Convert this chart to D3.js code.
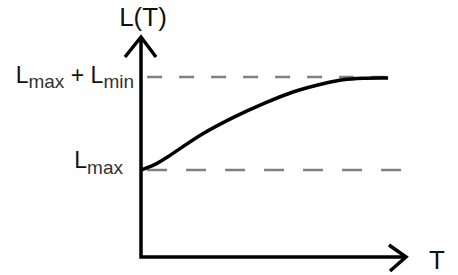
<!DOCTYPE html>
<html>
<head>
<meta charset="utf-8">
<script src="https://cdn.jsdelivr.net/npm/d3@7"></script>
<style>
  body { margin: 0; background: #fff; }
  text { font-family: "Liberation Sans", Arial, sans-serif; fill: #111; white-space: pre; }
</style>
</head>
<body>
<div id="chart"></div>
<script>
// curve L(T), in axis units (0..100 on both axes, 100 = arrow tip)
const curveT = [0, 5.3, 10.2, 23.1, 35.6, 46.2, 57.6, 70.5, 76.5, 84.1, 93.6];
const curveL = [39.5, 42.1, 45.6, 55.8, 63.8, 69.6, 75.0, 79.2, 80.6, 81.3, 81.4];

// reference levels
const levelNames = ["upper", "lower"];
const levelValues = [81.8, 39.5];
const levelStarts = [2.3, 2.3];
const levelEnds = [96.2, 103];

const axisLabels = ["L(T)", "T"];

function drawChart() {
    const width = 458, height = 275;
    const svg = d3.select("#chart")
        .append("svg")
        .attr("width", width)
        .attr("height", height);

    const xScale = d3.scaleLinear().domain([0, 100]).range([141, 405]);
    const yScale = d3.scaleLinear().domain([0, 100]).range([257, 37]);

    // dashed reference lines
    const dashes = { upper: "15,17", lower: "20,19" };
    levelNames.forEach((name, i) => {
        svg.append("line")
            .attr("class", "level-" + name)
            .attr("x1", xScale(levelStarts[i]))
            .attr("x2", xScale(levelEnds[i]))
            .attr("y1", yScale(levelValues[i]))
            .attr("y2", yScale(levelValues[i]))
            .attr("stroke", "#808080")
            .attr("stroke-width", 2.5)
            .attr("stroke-dasharray", dashes[name]);
    });

    // axes with arrow heads
    const axisPath = d3.line().x((d) => xScale(d[0])).y((d) => yScale(d[1]));
    svg.append("path")
        .attr("class", "axes")
        .attr("fill", "none")
        .attr("stroke", "#000")
        .attr("stroke-width", 3.5)
        .attr("stroke-linejoin", "miter")
        .attr("d", axisPath([[0, 100], [0, 0], [100, 0]]));

    // arrow heads
    const yTip = [xScale(0), yScale(100)];
    svg.append("path")
        .attr("fill", "none")
        .attr("stroke", "#000")
        .attr("stroke-width", 3.5)
        .attr("d", d3.line()([[yTip[0] - 16, yTip[1] + 20], yTip, [yTip[0] + 15, yTip[1] + 20]]));
    const xTip = [xScale(100) + 1, yScale(0)];
    svg.append("path")
        .attr("fill", "none")
        .attr("stroke", "#000")
        .attr("stroke-width", 3.5)
        .attr("d", d3.line()([[xTip[0] - 17, xTip[1] - 12], xTip, [xTip[0] - 16, xTip[1] + 14]]));

    // the curve
    const pts = curveT.map((t, i) => ({ t, l: curveL[i] }));
    const curve = d3.line()
        .x((d) => xScale(d.t))
        .y((d) => yScale(d.l))
        .curve(d3.curveCatmullRom.alpha(0.5));
    svg.append("path")
        .attr("class", "curve")
        .attr("fill", "none")
        .attr("stroke", "#000")
        .attr("stroke-width", 3.5)
        .attr("d", curve(pts));

    // axis labels
    svg.append("text")
        .attr("x", xScale(0) + 2)
        .attr("y", 26)
        .attr("text-anchor", "middle")
        .attr("font-size", 26)
        .text(axisLabels[0]);
    svg.append("text")
        .attr("x", 429)
        .attr("y", yScale(0) + 12)
        .attr("font-size", 26)
        .text(axisLabels[1]);

    // level labels
    const up = svg.append("text")
        .attr("x", 134)
        .attr("y", yScale(levelValues[0]) + 6)
        .attr("text-anchor", "end")
        .attr("font-size", 23);
    up.append("tspan").text("L");
    up.append("tspan").attr("dy", 5).attr("font-size", 19).attr("fill", "#333").text("max");
    up.append("tspan").attr("dy", -5).text(" + L");
    up.append("tspan").attr("dy", 5).attr("font-size", 19).attr("fill", "#333").text("min");

    const low = svg.append("text")
        .attr("x", 123)
        .attr("y", yScale(levelValues[1]) - 2)
        .attr("text-anchor", "end")
        .attr("font-size", 23);
    low.append("tspan").text("L");
    low.append("tspan").attr("dy", 6).attr("font-size", 19).attr("fill", "#333").text("max");
}

drawChart();
</script>
</body>
</html>
